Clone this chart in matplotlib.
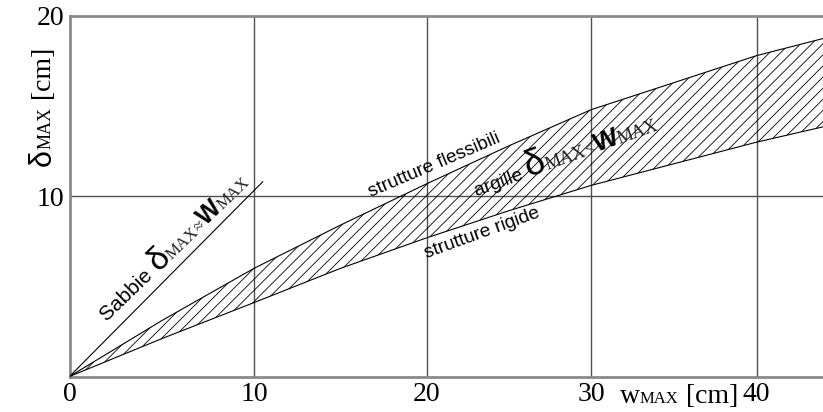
import numpy as np
import matplotlib
matplotlib.use("Agg")
import matplotlib.pyplot as plt
from matplotlib.scale import FuncScale

# ---- data ----
w_vals = [0, 5, 10, 15, 20, 25, 30, 35, 40, 44]
delta_flessibili = [0, 3.1, 6.0, 8.4, 10.7, 12.8, 14.8, 16.3, 17.8, 18.75]
delta_rigide = [0, 2.1, 4.1, 6.0, 7.7, 9.2, 10.6, 11.8, 13.0, 13.85]
sabbie_w = [0, 10.5]
sabbie_delta = [0, 10.8]
x_ticks = [0, 10, 20, 30, 40]
y_ticks = [10, 20]

# non-uniform (scanned) horizontal scale calibration
xk = np.array([0, 10, 20, 30, 40, 44], float)
pk = np.array([0, 184.5, 357.5, 521.5, 687, 753.5], float)

def fwd(x):
    x = np.asarray(x, float)
    return np.where(x < 0, x * 18.45,
           np.where(x > 44, 753.5 + (x - 44) * 16.6, np.interp(x, xk, pk)))

def inv(p):
    p = np.asarray(p, float)
    return np.where(p < 0, p / 18.45,
           np.where(p > 753.5, 44 + (p - 753.5) / 16.6, np.interp(p, pk, xk)))

W, H = 823, 412
plt.rcParams['hatch.linewidth'] = 0.6
fig = plt.figure(figsize=(W / 100, H / 100), dpi=100)
ax = fig.add_axes([69.5 / W, (H - 376.5) / H, (W - 69.5) / W, (376.5 - 16) / H])
ax.set_xscale(FuncScale(ax, (fwd, inv)))
ax.set_xlim(0, 44)
ax.set_ylim(0, 20)

frame_c = '#8a8a8a'
for s in ['left', 'top', 'bottom']:
    ax.spines[s].set_color(frame_c)
    ax.spines[s].set_linewidth(2)
ax.spines['right'].set_visible(False)

ax.set_xticks(x_ticks)
ax.set_yticks(y_ticks)
ax.set_xticklabels([str(t) for t in x_ticks])
ax.set_yticklabels([str(t) for t in y_ticks])
ax.tick_params(length=0, labelsize=20, pad=4)
for lab in ax.get_xticklabels() + ax.get_yticklabels():
    lab.set_fontfamily('Liberation Serif')

for xv in x_ticks[1:]:
    ax.axvline(xv, color='#505050', lw=1, zorder=1)
ax.axhline(10, color='#505050', lw=1, zorder=1)

ax.fill_between(w_vals, delta_rigide, delta_flessibili, facecolor='none',
                edgecolor='black', hatch='///', linewidth=0, zorder=2)
ax.plot(w_vals, delta_flessibili, color='black', lw=0.8, zorder=3)
ax.plot(w_vals, delta_rigide, color='black', lw=0.8, zorder=3)
ax.plot(sabbie_w, sabbie_delta, color='black', lw=0.8, zorder=3)

renderer = fig.canvas.get_renderer()

def rich(p0, pieces, angle):
    th = np.deg2rad(angle)
    d = 0.0
    for s, kw in pieces:
        tmp = fig.text(0, 0, s, **kw)
        w = tmp.get_window_extent(renderer).width
        tmp.remove()
        px = p0[0] + d * np.cos(th)
        py = p0[1] + d * np.sin(th)
        fig.text(px / W, py / H, s, rotation=angle, rotation_mode='anchor',
                 ha='left', va='baseline', **kw)
        d += w

def data_pt(x, y):
    return ax.transData.transform((x, y))

def pix_pt(x, y):
    return (x, H - y)

SANS = 'Liberation Sans'
SERIF = 'Liberation Serif'
sans15 = dict(family=SANS, size=15)
sans14 = dict(family=SANS, size=13.8)
delta_kw = dict(family=SANS, size=24)
delta_kw2 = dict(family=SANS, size=26)
cap_kw = dict(family=SERIF, size=12, color='#222222')
cap_kw2 = dict(family=SERIF, size=13, color='#222222')
wbig = dict(family=SANS, size=18, weight='bold')
wbig2 = dict(family=SANS, size=19, weight='bold')

rich(data_pt(2.05, 3.05), [("Sabbie ", sans15), ("δ", delta_kw), ("MAX", cap_kw),
                           ("≈", cap_kw), ("W", wbig), ("MAX", cap_kw)], 44)
rich(data_pt(16.75, 9.95), [("strutture flessibili", sans14)], 23)
rich(data_pt(19.95, 6.55), [("strutture rigide", sans14)], 20)
rich(data_pt(23.0, 10.0), [("argille ", sans14), ("δ", delta_kw2), ("MAX", cap_kw2),
                           ("<", cap_kw2), ("W", wbig2), ("MAX", cap_kw2)], 20)

# axis labels
rich(pix_pt(620, 403), [("w", dict(family=SERIF, size=20)),
                        ("MAX", dict(family=SERIF, size=12)),
                        (" [cm]", dict(family=SERIF, size=20))], 0)
rich(pix_pt(51, 166), [("δ", dict(family=SANS, size=22)),
                       ("MAX", dict(family=SERIF, size=13)),
                       (" [cm]", dict(family=SERIF, size=20))], 90)

fig.savefig('out.png', dpi=100)
